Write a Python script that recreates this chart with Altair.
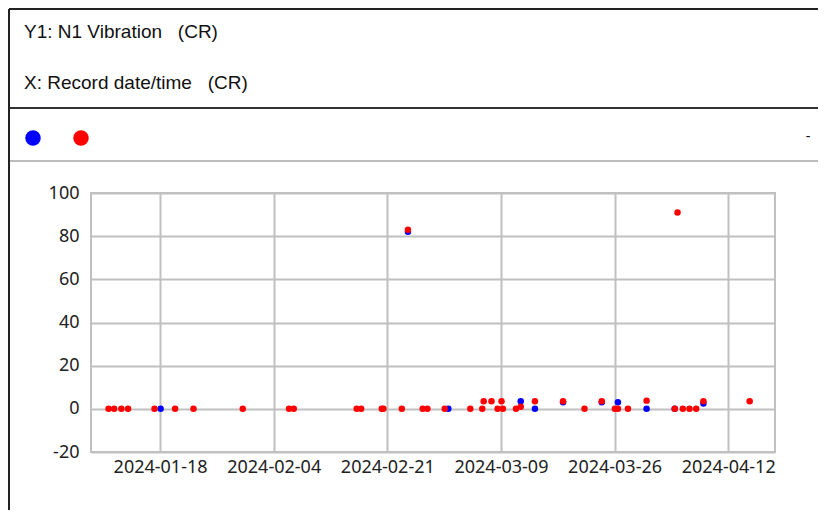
import altair as alt
import pandas as pd

# ---- data ----
red_dates = [
    "2024-01-10T07:00", "2024-01-11T03:00", "2024-01-12T05:00", "2024-01-13T05:00",
    "2024-01-17T04:00", "2024-01-20T06:00", "2024-01-23T00:00", "2024-01-30T09:00",
    "2024-02-06T07:00", "2024-02-07T00:00", "2024-02-16T10:00", "2024-02-17T02:00",
    "2024-02-20T04:00", "2024-02-20T10:00", "2024-02-23T04:00", "2024-02-24T02:00",
    "2024-02-26T07:00", "2024-02-27T00:00", "2024-02-29T14:00", "2024-03-04T10:00",
    "2024-03-06T05:00", "2024-03-06T10:00", "2024-03-07T14:00", "2024-03-08T12:00",
    "2024-03-09T02:00", "2024-03-09T07:00", "2024-03-11T06:00", "2024-03-11T23:00",
    "2024-03-14T02:00", "2024-03-18T07:00", "2024-03-21T12:00", "2024-03-24T02:00",
    "2024-03-26T01:00", "2024-03-26T12:00", "2024-03-28T00:00", "2024-03-30T19:00",
    "2024-04-04T00:00", "2024-04-04T10:00", "2024-04-05T05:00", "2024-04-06T05:00",
    "2024-04-07T05:00", "2024-04-08T07:00", "2024-04-15T05:00",
]
red_values = [
    0, 0, 0, 0,
    0, 0, 0, 0,
    0, 0, 0, 0,
    0, 0, 0, 83,
    0, 0, 0, 0,
    0, 3.5, 3.5, 0,
    3.5, 0, 0, 1,
    3.5, 3.5, 0, 3.5,
    0, 0, 0, 3.8,
    0, 91, 0, 0,
    0, 3.5, 3.5,
]
blue_dates = [
    "2024-01-18T02:00", "2024-02-24T02:00", "2024-03-01T03:00", "2024-03-11T23:00",
    "2024-03-14T02:00", "2024-03-18T07:00", "2024-03-24T02:00", "2024-03-26T12:00",
    "2024-03-30T19:00", "2024-04-04T00:00", "2024-04-08T07:00",
]
blue_values = [0, 82, 0, 3.5, 0, 3, 3, 3, 0, 0, 2.5]

x_ticks = ["2024-01-18", "2024-02-04", "2024-02-21", "2024-03-09", "2024-03-26", "2024-04-12"]
y_ticks = [-20, 0, 20, 40, 60, 80, 100]

NB = "\u00a0"
header_y1 = "Y1: N1 Vibration" + NB * 3 + "(CR)"
header_x = "X: Record date/time" + NB * 3 + "(CR)"

# ---- build ----
def dt(s):
    t = pd.Timestamp(s)
    return alt.DateTime(year=t.year, month=t.month, date=t.day, hours=t.hour)

red_df = pd.DataFrame({"date": red_dates, "value": red_values})
blue_df = pd.DataFrame({"date": blue_dates, "value": blue_values})

x_enc = alt.X(
    "date:T",
    title=None,
    scale=alt.Scale(domain=[dt("2024-01-07T16:00"), dt("2024-04-19T00:00")], nice=False),
    axis=alt.Axis(values=[dt(v) for v in x_ticks], format="%Y-%m-%d", labelPadding=6),
)
y_enc = alt.Y(
    "value:Q",
    title=None,
    scale=alt.Scale(domain=[-20, 100], nice=False, zero=False),
    axis=alt.Axis(values=y_ticks, labelPadding=12, labelExpr="'' + datum.value"),
)

blue = alt.Chart(blue_df).mark_circle(size=42, color="#0000ff", opacity=1).encode(x=x_enc, y=y_enc)
red = alt.Chart(red_df).mark_circle(size=42, color="#ff0000", opacity=1).encode(x=x_enc, y=y_enc)

one = alt.Data(values=[{"a": 1}])

def hrule(y, color, w):
    return alt.Chart(one).mark_rule(color=color, strokeWidth=w).encode(
        x=alt.value(-82), x2=alt.value(730), y=alt.value(y))

top_border = hrule(-184, "#222222", 2)
dark_line = hrule(-85, "#333333", 2)
gray_line = hrule(-32, "#bbbbbb", 2)
left_border = alt.Chart(one).mark_rule(color="#222222", strokeWidth=2).encode(
    x=alt.value(-82), y=alt.value(-184), y2=alt.value(330))

def label(txt, x, y, size=19, align="left"):
    return alt.Chart(one).mark_text(
        text=txt, align=align, baseline="middle", fontSize=size,
        font="Liberation Sans", color="#111111").encode(x=alt.value(x), y=alt.value(y))

t1 = label(header_y1, -67, -161)
t2 = label(header_x, -67, -110)
dash = label("-", 717, -56, size=14, align="center")

leg_blue = alt.Chart(one).mark_circle(size=240, color="#0000ff", opacity=1).encode(
    x=alt.value(-58), y=alt.value(-55))
leg_red = alt.Chart(one).mark_circle(size=240, color="#ff0000", opacity=1).encode(
    x=alt.value(-10), y=alt.value(-55))

chart = alt.layer(
    blue, red, top_border, dark_line, gray_line, left_border, t1, t2, dash, leg_blue, leg_red
).properties(
    width=684, height=259,
    autosize=alt.AutoSizeParams(type="none"),
    padding={"left": 83, "top": 185, "right": 43, "bottom": 58},
).configure(
    background="white",
    view=alt.ViewConfig(stroke="#c0c0c0", strokeWidth=2),
    axis=alt.AxisConfig(
        domain=False, ticks=False, grid=True, gridColor="#c0c0c0", gridWidth=2,
        labelFont="Noto Sans", labelFontSize=18, labelColor="#222222",
    ),
)

chart.save("out.html", embed_options={"renderer": "svg", "actions": False})
